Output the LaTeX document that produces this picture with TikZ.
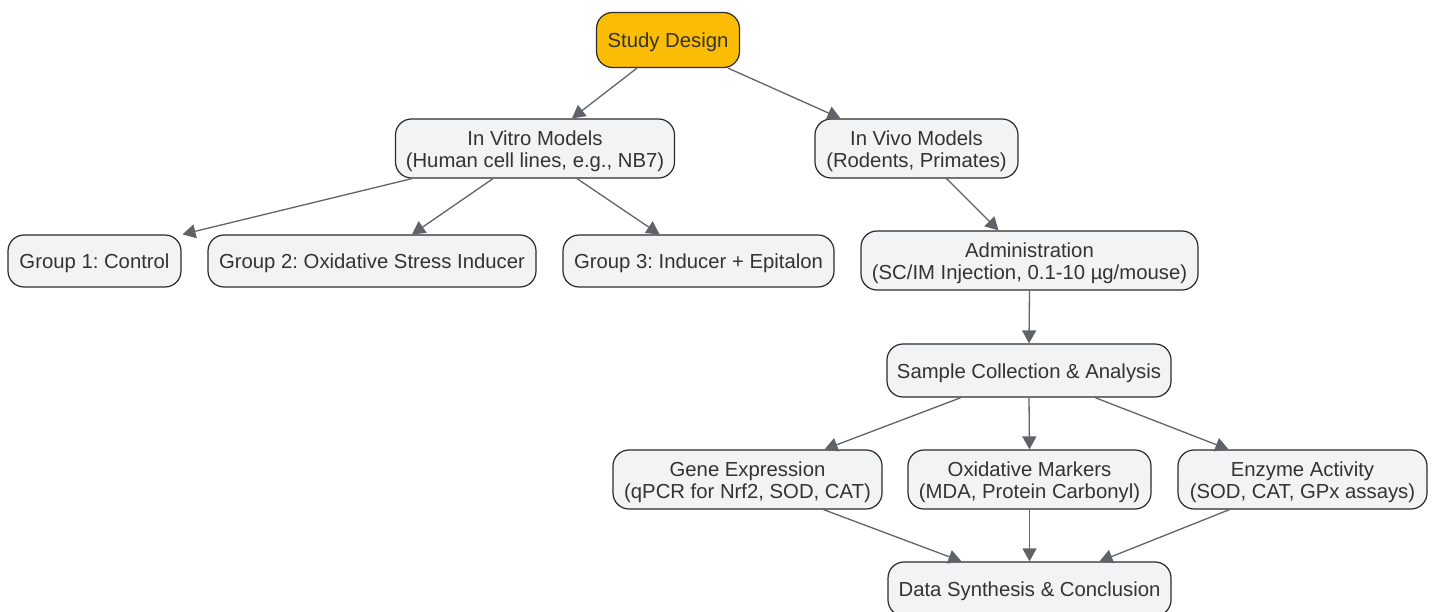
\documentclass[tikz,border=0pt]{standalone}
\usepackage{fontspec}
\setmainfont{Liberation Sans}
\usetikzlibrary{arrows.meta}
\definecolor{boxfill}{HTML}{F2F3F5}
\definecolor{boxline}{HTML}{2B2B2B}
\definecolor{txt}{HTML}{333333}
\definecolor{gold}{HTML}{FBBC05}
\definecolor{edge}{HTML}{5F6368}
\tikzset{
  box/.style={draw=boxline, line width=1.2pt, fill=boxfill, rounded corners=16pt,
    text=txt, font=\frenchspacing\fontsize{20.3}{22.5}\selectfont, align=center, inner sep=0pt,
    execute at begin node={\rule{0pt}{19.8pt}}},
  twoline/.style={box, execute at begin node={\rule{0pt}{42.6pt}}},
  root/.style={box, fill=gold},
  link/.style={draw=edge, line width=1.3pt, -{Triangle[length=13pt,width=14pt]}}
}
\begin{document}
\begin{tikzpicture}[x=1pt,y=-1pt]
\useasboundingbox (0,0) rectangle (1436,612);
\node[root, minimum width=143pt, minimum height=55pt] (sd) at (668,40) {Study Design};
\node[twoline, minimum width=279pt, minimum height=59pt] (vitro) at (535,148.5) {In Vitro Models\\(Human cell lines, e.g., NB7)};
\node[twoline, minimum width=203pt, minimum height=59pt] (vivo) at (916.5,148.5) {In Vivo Models\\(Rodents, Primates)};
\node[box, minimum width=173pt, minimum height=52pt] (g1) at (94.5,261) {Group 1: Control};
\node[box, minimum width=328pt, minimum height=52pt] (g2) at (372,261) {Group 2: Oxidative Stress Inducer};
\node[box, minimum width=271pt, minimum height=52pt] (g3) at (698.5,261) {Group 3: Inducer + Epitalon};
\node[twoline, minimum width=337pt, minimum height=59pt] (adm) at (1029.5,260.5) {Administration\\(SC/IM Injection, 0.1-10 µg/mouse)};
\node[box, minimum width=284pt, minimum height=53pt] (samp) at (1029,370.5) {Sample Collection \& Analysis};
\node[twoline, minimum width=269pt, minimum height=59pt] (gene) at (747.5,479.5) {Gene Expression\\(qPCR for Nrf2, SOD, CAT)};
\node[twoline, minimum width=243pt, minimum height=59pt] (oxm) at (1029.5,479.5) {Oxidative Markers\\(MDA, Protein Carbonyl)};
\node[twoline, minimum width=249pt, minimum height=59pt] (enz) at (1302.5,479.5) {Enzyme Activity\\(SOD, CAT, GPx assays)};
\node[box, minimum width=283pt, minimum height=54pt] (data) at (1029.5,589) {Data Synthesis \& Conclusion};

\draw[link] ([xshift=-31pt]sd.south) -- ([xshift=37pt]vitro.north);
\draw[link] ([xshift=60pt]sd.south) -- ([xshift=-76pt]vivo.north);
\draw[link] ([xshift=-123pt]vitro.south) -- ([xshift=88pt]g1.north);
\draw[link] ([xshift=-42pt]vitro.south) -- ([xshift=40pt]g2.north);
\draw[link] ([xshift=42pt]vitro.south) -- ([xshift=-39pt]g3.north);
\draw[link] ([xshift=30pt]vivo.south) -- ([xshift=-31pt]adm.north);
\draw[link] (adm.south) -- (samp.north);
\draw[link] ([xshift=-68pt]samp.south) -- ([xshift=77pt]gene.north);
\draw[link] (samp.south) -- (oxm.north);
\draw[link] ([xshift=66pt]samp.south) -- ([xshift=-74pt]enz.north);
\draw[link] ([xshift=76pt]gene.south) -- ([xshift=-68pt]data.north);
\draw[link] (oxm.south) -- (data.north);
\draw[link] ([xshift=-73pt]enz.south) -- ([xshift=70pt]data.north);
\end{tikzpicture}
\end{document}
